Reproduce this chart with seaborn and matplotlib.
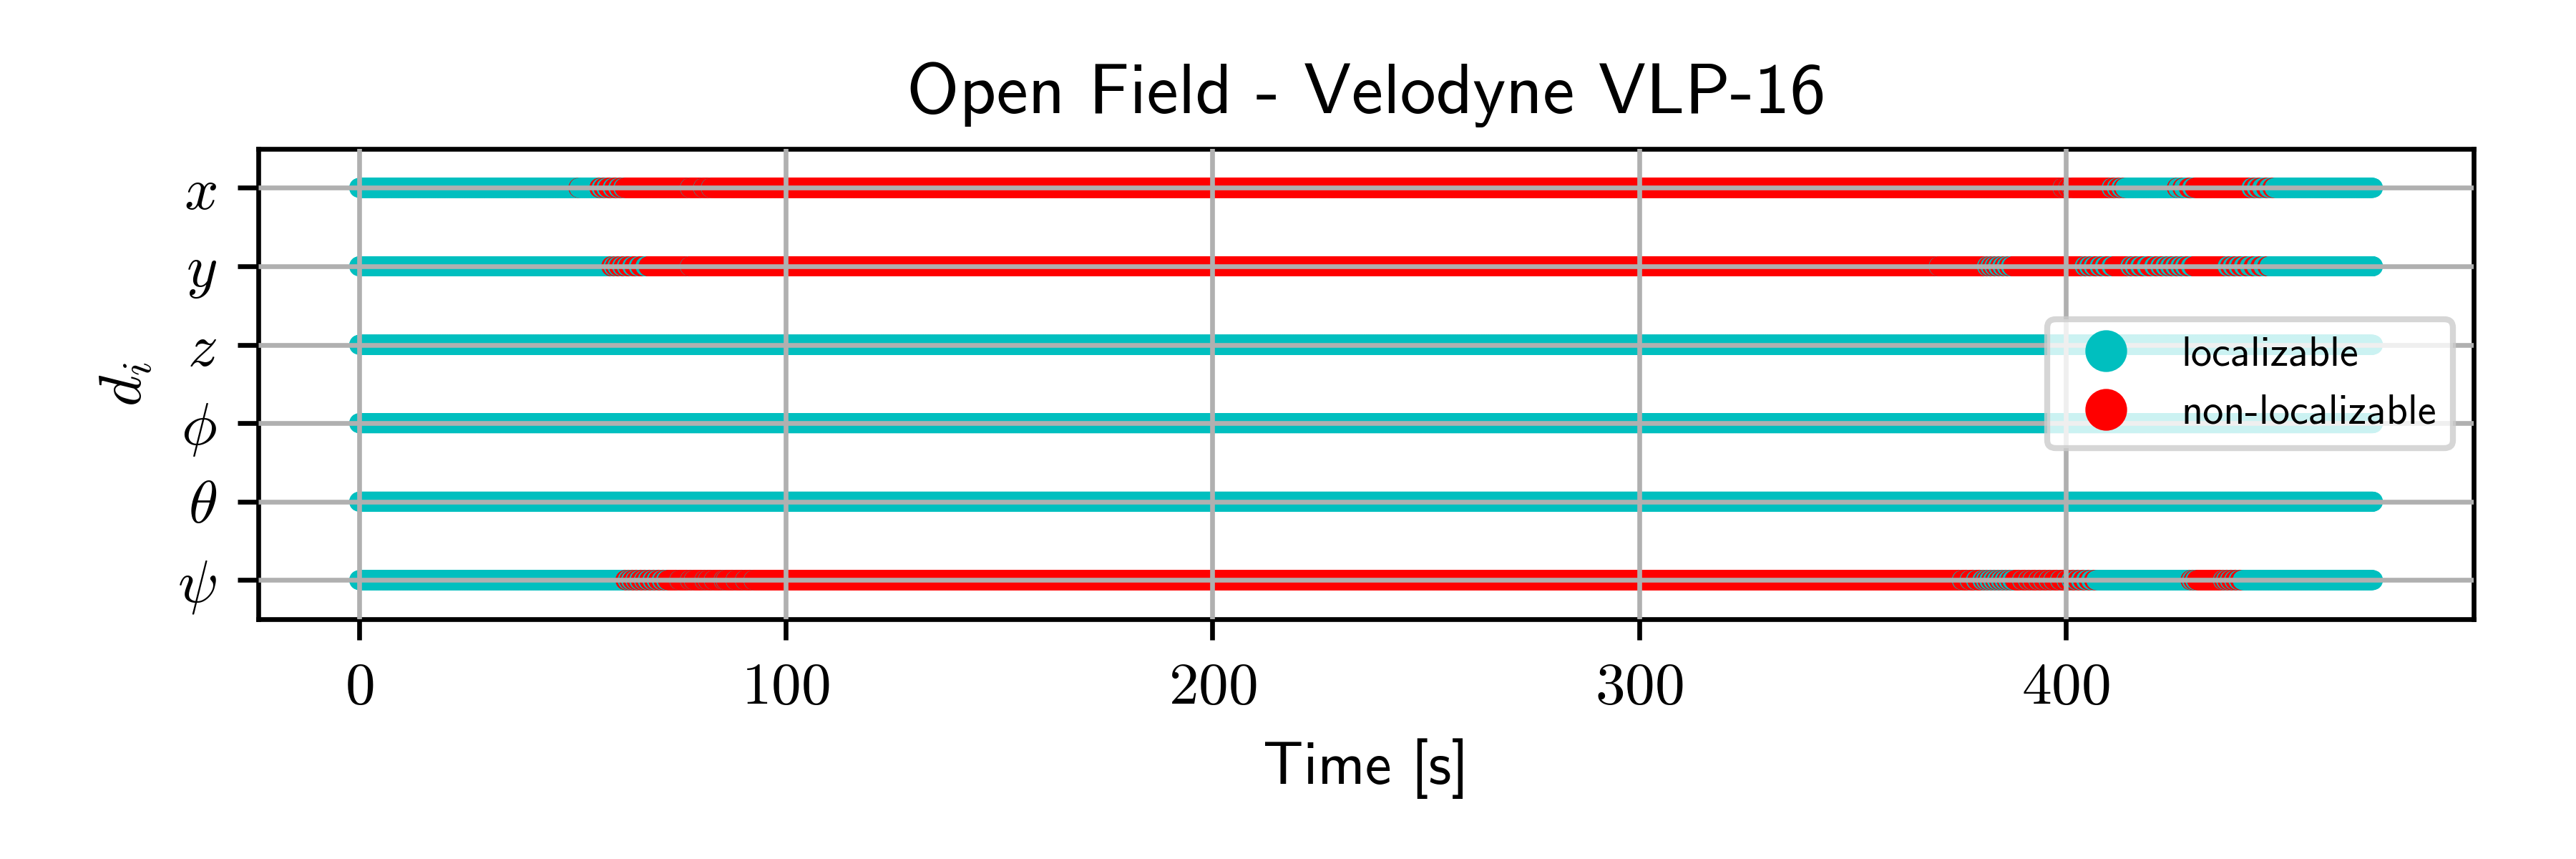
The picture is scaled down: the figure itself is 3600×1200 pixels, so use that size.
import numpy as np
import pandas as pd
import matplotlib
matplotlib.use('Agg')
import matplotlib.pyplot as plt
from matplotlib.lines import Line2D
import seaborn as sns

plt.rcParams['mathtext.fontset'] = 'cm'
plt.rcParams['font.family'] = ['cmss10', 'DejaVu Sans']
plt.rcParams['axes.unicode_minus'] = False

# degrees of freedom, top to bottom
dims = ['x', 'y', 'z', 'phi', 'theta', 'psi']
dim_labels = [r'$x$', r'$y$', r'$z$', r'$\phi$', r'$\theta$', r'$\psi$']
states = ['localizable', 'non-localizable']
state_colors = ['c', 'r']
x_ticks = [0, 100, 200, 300, 400]

t_end = 472.0   # last sample [s]
dt = 0.1        # sample period [s]

# time windows (start, end) in seconds where the direction is non-localizable
red_x = [(51.4, 51.5),
         (56.3, 56.7), (57.3, 57.8), (58.4, 59.3), (59.8, 60.6), (61.1, 61.8),
         (62.2, 77.4), (77.6, 80.5), (80.7, 82.3), (82.5, 399.1), (399.3, 400.4),
         (400.6, 401.3), (401.5, 410.6), (411.0, 411.8), (412.3, 412.9), (413.5, 413.8),
         (426.0, 426.2), (427.3, 427.6), (428.8, 429.5), (430.2, 443.4), (444.0, 444.6),
         (445.3, 445.9), (446.9, 447.5), (448.4, 448.8)]
red_y = [(59.1, 59.5), (60.0, 60.4), (60.9, 61.5), (62.0, 62.6), (63.1, 63.9),
         (64.5, 65.4), (66.0, 67.0), (67.8, 77.4), (77.6, 370.1), (370.3, 381.4),
         (381.8, 382.2), (382.7, 383.1), (383.6, 384.0), (384.6, 385.0), (385.6, 386.0),
         (386.6, 387.0), (387.6, 404.3), (404.8, 405.3), (405.9, 406.4), (407.0, 407.8),
         (408.4, 409.0), (409.7, 410.6), (411.3, 415.0), (415.5, 416.0), (416.6, 417.3),
         (418.0, 418.8), (419.6, 420.6), (421.3, 422.0), (422.6, 423.2), (423.9, 424.3),
         (425.0, 425.5), (426.2, 426.7), (427.4, 427.8), (428.5, 429.2), (430.0, 437.8),
         (438.5, 439.0), (439.7, 440.3), (441.0, 441.6), (442.4, 443.0), (444.0, 444.6),
         (445.6, 446.2), (447.2, 447.6)]
red_psi = [(62.4, 62.8), (63.3, 63.6), (64.1, 64.6), (65.0, 65.5), (66.0, 66.6),
           (67.0, 67.5), (68.0, 68.6), (69.1, 69.6), (70.1, 70.8), (71.3, 71.8),
           (72.3, 74.9), (75.1, 77.4), (77.6, 78.3), (78.5, 80.8), (81.0, 81.6),
           (81.8, 83.0), (83.2, 85.3), (85.5, 85.8), (86.0, 88.1), (88.3, 90.3),
           (90.5, 92.3), (92.5, 375.5), (375.8, 377.3), (377.6, 378.8), (379.2, 380.3),
           (380.8, 381.1), (381.6, 381.9), (382.5, 382.8), (383.4, 383.7), (384.3, 384.6),
           (385.2, 385.5), (386.1, 386.4), (387.0, 387.3), (388.0, 389.6), (389.9, 391.0),
           (391.3, 392.0), (392.3, 393.4), (393.7, 394.5), (394.8, 395.8), (396.1, 396.9),
           (397.2, 398.5), (398.8, 400.0), (400.3, 401.2), (401.6, 402.3), (402.8, 403.4),
           (404.0, 404.6), (405.3, 405.8), (406.6, 407.0),
           (429.2, 429.4), (429.9, 430.2), (430.7, 436.7), (437.0, 437.4), (437.8, 438.3),
           (438.7, 439.3), (439.7, 440.3), (440.8, 441.3)]
red_windows = {'x': red_x, 'y': red_y, 'z': [], 'phi': [], 'theta': [], 'psi': red_psi}

t = np.round(np.arange(0, t_end + dt / 2, dt), 3)
frames = []
for i, d in enumerate(dims):
    state = np.full(len(t), states[0], dtype=object)
    for a, b in red_windows[d]:
        state[(t >= a - 1e-6) & (t <= b + 1e-6)] = states[1]
    frames.append(pd.DataFrame({'time': t, 'row': len(dims) - 1 - i, 'state': state}))
df = pd.concat(frames, ignore_index=True)

fig, ax = plt.subplots(figsize=(6, 2))
fig.subplots_adjust(left=0.1003, right=0.9603, bottom=0.279, top=0.827)

sns.scatterplot(data=df, x='time', y='row', hue='state', hue_order=states,
                palette=dict(zip(states, state_colors)), s=5, linewidth=1.1,
                edgecolor='face', legend=False, ax=ax)

ax.set_ylim(-0.5, len(dims) - 0.5)
ax.set_yticks(range(len(dims)))
ax.set_yticklabels(dim_labels[::-1])
ax.set_xticks(x_ticks)
ax.set_xticklabels([f'${v}$' for v in x_ticks])
ax.tick_params(labelsize=10)
ax.grid(True)
ax.set_axisbelow(False)

ax.set_title('Open Field - Velodyne VLP-16', fontsize=12)
ax.set_xlabel('Time [s]', fontsize=10)
ax.set_ylabel(r'$d_i$', fontsize=10)

handles = [Line2D([], [], ls='none', marker='o', color=c, markersize=6)
           for c in state_colors]
ax.legend(handles, states, loc='center right', fontsize=7)

fig.savefig('out.png', dpi=600)
